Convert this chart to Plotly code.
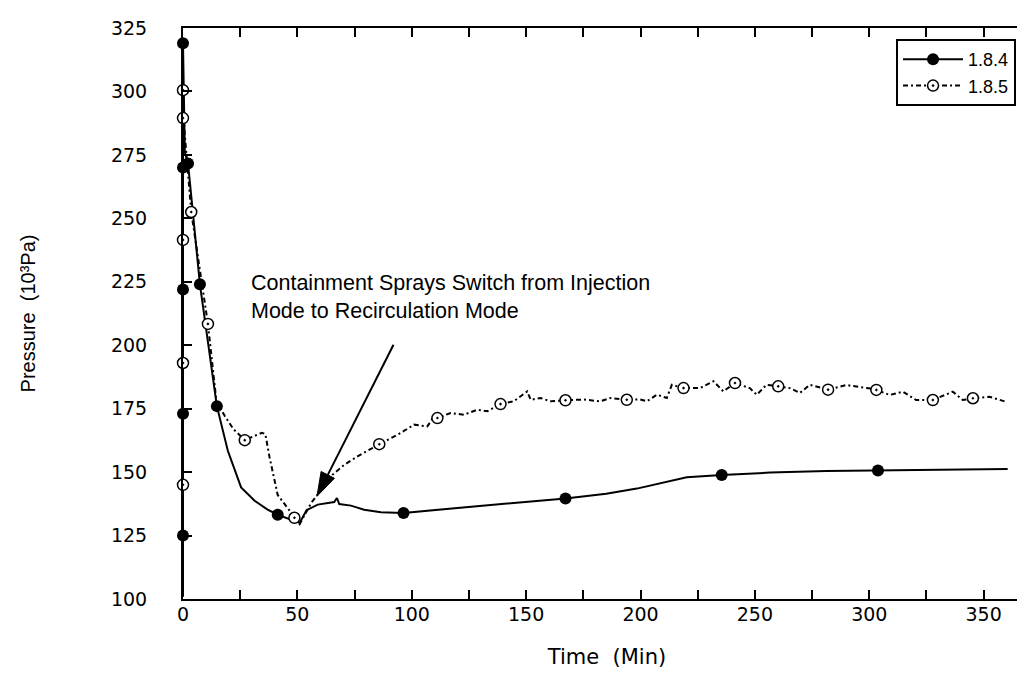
import plotly.graph_objects as go

# ---------------- data ----------------
# Series "1.8.4" (solid line, filled markers): time (min), pressure (10^3 Pa)
T_184 = [0, 0, 0, 0, 0, 0, 0.8, 2.2, 7.4, 14.8, 19.6, 25.4, 31.3, 37.0, 41.4, 47.0,
         51.0, 54.0, 58.9, 66.1, 67.3, 68.3, 73.4, 79.2, 86.5, 96.4, 111.2, 120.0,
         167.2, 185.0, 198.4, 210.0, 220.2, 235.5, 256.6, 281.3, 303.8, 360.5]
P_184 = [101, 125, 173, 222, 270, 319, 276, 271.6, 224, 176, 158.4, 144, 138.7, 135.2, 133.2, 131.5,
         130.0, 135.0, 137.2, 138.2, 139.8, 137.4, 136.8, 135.2, 134.2, 133.9, 135.2, 135.9,
         139.6, 141.5, 143.5, 146.0, 148.0, 148.9, 149.8, 150.4, 150.6, 151.2]
T_184_MARK = [0, 0, 0, 0, 0, 2.2, 7.4, 14.8, 41.4, 96.4, 167.2, 235.5, 303.8]
P_184_MARK = [125, 173, 222, 270, 319, 271.6, 224, 176, 133.2, 133.9, 139.6, 148.9, 150.6]

# Series "1.8.5" (dash-dot line, open markers)
T_185 = [0, 0, 0, 0, 0, 0, 0.6, 3.6, 10.9, 14.6, 18.2, 22.0, 27.0, 34.5, 36.0, 37.8,
         41.4, 48.7, 51.0, 56.0, 65.4, 70.5, 76.3, 85.8, 93.8, 101.0, 106.8, 109.8,
         111.2, 117.0, 122.8, 128.7, 133.0, 138.8, 144.6, 150.5, 152.0, 156.3, 160.6,
         167.2, 175.2, 182.4, 186.8, 194.0, 199.9, 202.8, 207.2, 211.5, 213.7, 218.8,
         226.0, 231.9, 236.2, 241.3, 247.8, 250.8, 255.1, 260.2, 265.3, 269.7, 274.0,
         282.0, 290.0, 299.8, 303.1, 308.9, 314.7, 320.5, 327.8, 336.5, 340.9, 345.3,
         352.5, 359.8]
P_185 = [101, 145, 193, 241.5, 289.5, 300.5, 285, 252.5, 208.4, 178, 172.2, 167, 162.6, 165.5, 165, 156,
         141, 132, 129.5, 137.8, 149, 152.9, 156.2, 161, 164.7, 168.7, 168, 172,
         171.3, 173.3, 172.6, 174.6, 174, 176.8, 177.9, 181.8, 178.5, 179.2, 177.9,
         178.3, 178.6, 177.9, 179.2, 178.5, 178.6, 177.9, 180.5, 179.2, 184.4, 183.1,
         183.1, 185.8, 181.8, 185.1, 183.1, 180.5, 184.4, 183.8, 183.1, 181.2, 184.4,
         182.5, 184.3, 183.0, 182.4, 180.4, 181.7, 178.4, 178.4, 181.7, 178.4, 179.1,
         179.7, 177.7]
T_185_MARK = [0, 0, 0, 0, 0, 3.6, 10.9, 27.0, 48.7, 85.8, 111.2, 138.8, 167.2, 194.0,
              218.8, 241.3, 260.2, 282.0, 303.1, 327.8, 345.3]
P_185_MARK = [145, 193, 241.5, 289.5, 300.5, 252.5, 208.4, 162.6, 132, 161, 171.3, 176.8, 178.3, 178.5,
              183.1, 185.1, 183.8, 182.5, 182.4, 178.4, 179.1]

SERIES_NAMES = ["1.8.4", "1.8.5"]
X_TICKS = [0, 50, 100, 150, 200, 250, 300, 350]
Y_TICKS = [100, 125, 150, 175, 200, 225, 250, 275, 300, 325]
ANNOT_TEXT = "Containment Sprays Switch from Injection<br>Mode to Recirculation Mode"
X_TITLE = "Time\u00a0 (Min)"
Y_TITLE = "Pressure\u00a0 (10\u00b3Pa)"

# ---------------- layout geometry ----------------
W, H = 1025, 675
M_L, M_R, M_T, M_B = 175, 0, 20, 84
X_RANGE = [0, 370.7]
Y_RANGE = [100, 325]
PW, PH = W - M_L - M_R, H - M_T - M_B


def px_to_x(px):
    return X_RANGE[0] + (px - M_L) * (X_RANGE[1] - X_RANGE[0]) / PW


def py_to_y(py):
    return Y_RANGE[0] + (M_T + PH - py) * (Y_RANGE[1] - Y_RANGE[0]) / PH


# arrow (pixel geometry of the pointer in the reference)
ARROW_TAIL = (386.0, 336.7)
ARROW_TIP = (309.3, 488.3)
HEAD_LEN, HEAD_HALF = 24.0, 7.5

dx, dy = ARROW_TIP[0] - ARROW_TAIL[0], ARROW_TIP[1] - ARROW_TAIL[1]
L = (dx * dx + dy * dy) ** 0.5
ux, uy = dx / L, dy / L
nx, ny = -uy, ux
bx, by = ARROW_TIP[0] - HEAD_LEN * ux, ARROW_TIP[1] - HEAD_LEN * uy
c1 = (bx + HEAD_HALF * nx, by + HEAD_HALF * ny)
c2 = (bx - HEAD_HALF * nx, by - HEAD_HALF * ny)

# ---------------- figure ----------------
TICK_FONT = dict(family="DejaVu Sans", size=19, color="black")
DASHDOT = "5px,3px,2px,3px"

fig = go.Figure()
fig.add_trace(go.Scatter(x=T_184, y=P_184, mode="lines",
                         line=dict(color="black", width=2),
                         showlegend=False, hoverinfo="skip"))
fig.add_trace(go.Scatter(x=T_185, y=P_185, mode="lines",
                         line=dict(color="black", width=2, dash=DASHDOT),
                         showlegend=False, hoverinfo="skip"))
fig.add_trace(go.Scatter(x=T_184_MARK, y=P_184_MARK, mode="markers", cliponaxis=False,
                         marker=dict(symbol="circle", size=12, color="black"),
                         showlegend=False))
fig.add_trace(go.Scatter(x=T_185_MARK, y=P_185_MARK, mode="markers", cliponaxis=False,
                         marker=dict(symbol="circle-dot", size=11, color="white",
                                     line=dict(color="black", width=1.5)),
                         showlegend=False))
# legend entries
fig.add_trace(go.Scatter(x=[None], y=[None], mode="lines+markers", name=SERIES_NAMES[0],
                         line=dict(color="black", width=2),
                         marker=dict(symbol="circle", size=12, color="black")))
fig.add_trace(go.Scatter(x=[None], y=[None], mode="lines+markers", name=SERIES_NAMES[1],
                         line=dict(color="black", width=2, dash=DASHDOT),
                         marker=dict(symbol="circle-dot", size=11, color="white",
                                     line=dict(color="black", width=1.5))))

fig.add_annotation(x=px_to_x(241), y=py_to_y(261), xref="x", yref="y", text=ANNOT_TEXT,
                   showarrow=False, xanchor="left", yanchor="top", align="left",
                   font=dict(family="Liberation Sans", size=21.5, color="black"))

# arrow shaft and head
fig.add_shape(type="line", xref="x", yref="y",
              x0=px_to_x(ARROW_TAIL[0]), y0=py_to_y(ARROW_TAIL[1]),
              x1=px_to_x(bx), y1=py_to_y(by),
              line=dict(color="black", width=2))
fig.add_shape(type="path", xref="x", yref="y",
              path="M {:.3f},{:.3f} L {:.3f},{:.3f} L {:.3f},{:.3f} Z".format(
                  px_to_x(ARROW_TIP[0]), py_to_y(ARROW_TIP[1]),
                  px_to_x(c1[0]), py_to_y(c1[1]),
                  px_to_x(c2[0]), py_to_y(c2[1])),
              fillcolor="black", line=dict(color="black", width=1))

axis_common = dict(showline=True, linecolor="black", linewidth=2, mirror="ticks",
                   ticks="inside", ticklen=9, tickwidth=1.5, tickcolor="black",
                   showgrid=False, zeroline=False, tickfont=TICK_FONT)

fig.update_xaxes(range=X_RANGE, tickvals=X_TICKS, ticklabelstandoff=-3,
                 minor=dict(dtick=25, tick0=0, ticks="inside", ticklen=9, tickwidth=1.5,
                            tickcolor="black", showgrid=False),
                 title=dict(text=X_TITLE, standoff=26,
                            font=dict(family="DejaVu Sans", size=21, color="black")),
                 **axis_common)
fig.update_yaxes(range=Y_RANGE, tickvals=Y_TICKS, ticklabelstandoff=30,
                 title=dict(text=Y_TITLE, standoff=70,
                            font=dict(family="Liberation Sans", size=20, color="black")),
                 **axis_common)

fig.update_layout(width=W, height=H,
                  margin=dict(l=M_L, r=M_R, t=M_T, b=M_B),
                  paper_bgcolor="white", plot_bgcolor="white",
                  legend=dict(x=(1010 - M_L) / PW, y=1 - (31 - M_T) / PH,
                              xanchor="right", yanchor="top",
                              bordercolor="black", borderwidth=2, bgcolor="white",
                              itemwidth=60,
                              font=dict(family="Liberation Sans", size=18, color="black")))

fig.write_html("out.html")
